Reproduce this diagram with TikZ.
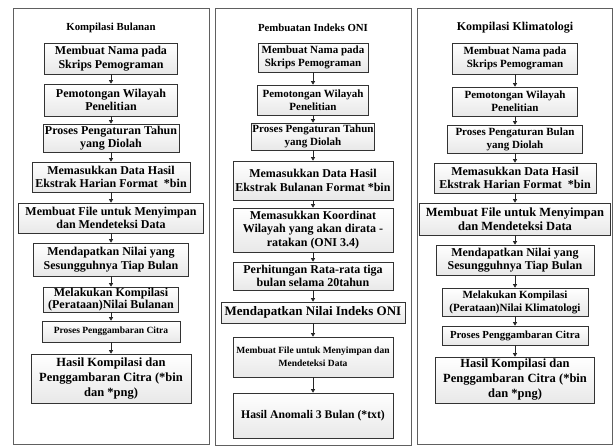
\documentclass[tikz,border=0pt]{standalone}
\usepackage{fontspec}
\setmainfont{Liberation Serif}
\usetikzlibrary{arrows.meta,shadows}

\tikzset{
  panel/.style={draw=gray!75!black, line width=1pt},
  title/.style={font=\bfseries\fontsize{10.8}{12}\selectfont},
  stepbox/.style={draw=gray!40!black, line width=0.6pt, top color=white,
    bottom color=gray!18, align=center, inner sep=0pt,
    drop shadow={shadow xshift=0.9pt, shadow yshift=-0.9pt, fill=gray!70, opacity=0.6}},
  sz/.style 2 args={minimum width=#1pt, minimum height=#2pt},
  fbig/.style={font=\bfseries\fontsize{12}{13.5}\selectfont},
  fmid/.style={font=\bfseries\fontsize{11}{13}\selectfont},
  fsmall/.style={font=\bfseries\fontsize{9.5}{12.5}\selectfont},
  arr/.style={-{Triangle[length=3.5pt,width=4pt]}, draw=gray!30!black, line width=0.8pt},
}

\begin{document}
\begin{tikzpicture}[x=1pt,y=-1pt]
    \useasboundingbox (0,0) rectangle (614,446);
    % panels
    \draw[panel] (13,9) rectangle (209,445);
    \draw[panel] (215,9) rectangle (411,446);
    \draw[panel] (417,9) rectangle (612,445);

    % Kompilasi Bulanan
    \node[title] (tl) at (111,28) {Kompilasi Bulanan};
    \node[stepbox, fbig, sz={133}{31}] (l1) at (111,58.5) {Membuat Nama pada\\Skrips Pemograman};
    \node[stepbox, fbig, sz={133}{32}] (l2) at (111,100) {Pemotongan Wilayah\\Penelitian};
    \node[stepbox, fbig, sz={136}{28}] (l3) at (111,138) {Proses Pengaturan Tahun\\yang Diolah};
    \node[stepbox, fbig, sz={158}{30}] (l4) at (111,177) {Memasukkan Data Hasil\\Ekstrak Harian Format~~*bin};
    \node[stepbox, fbig, sz={185}{30}] (l5) at (111,218) {Membuat File untuk Menyimpan\\dan Mendeteksi Data};
    \node[stepbox, fbig, sz={155}{33}] (l6) at (111,259.5) {Mendapatkan Nilai yang\\Sesungguhnya Tiap Bulan};
    \node[stepbox, font=\bfseries\fontsize{12}{12.5}\selectfont, sz={135}{25}] (l7) at (111,299.5) {Melakukan Kompilasi\\(Perataan)Nilai Bulanan};
    \node[stepbox, fsmall, sz={138}{21}] (l8) at (111,331.5) {Proses Penggambaran Citra};
    \node[stepbox, font=\bfseries\fontsize{12.5}{15}\selectfont, sz={160}{49}] (l9) at (111,378.5) {Hasil Kompilasi dan\\Penggambaran Citra (*bin\\dan *png)};

    % Pembuatan Indeks ONI
    \node[title] (tm) at (313,28) {Pembuatan Indeks ONI};
    \node[stepbox, fmid, sz={110}{29}] (m1) at (313,57.5) {Membuat Nama pada\\Skrips Pemograman};
    \node[stepbox, fmid, sz={111}{30}] (m2) at (313,100) {Pemotongan Wilayah\\Penelitian};
    \node[stepbox, fmid, sz={123}{27}] (m3) at (313,136.5) {Proses Pengaturan Tahun\\yang Diolah};
    \node[stepbox, fbig, sz={160}{39}] (m4) at (313,180.5) {Memasukkan Data Hasil\\Ekstrak Bulanan Format *bin};
    \node[stepbox, fbig, sz={160}{44}] (m5) at (313,230) {Memasukkan Koordinat\\Wilayah yang akan dirata -\\ratakan (ONI 3.4)};
    \node[stepbox, fbig, sz={160}{28}] (m6) at (313,276) {Perhitungan Rata-rata tiga\\bulan selama 20tahun};
    \node[stepbox, font=\bfseries\fontsize{13}{15}\selectfont, sz={184}{21}] (m7) at (313,312.5) {Mendapatkan Nilai Indeks ONI};
    \node[stepbox, fsmall, sz={160}{40}] (m8) at (313,357) {Membuat File untuk Menyimpan dan\\Mendeteksi Data};
    \node[stepbox, font=\bfseries\fontsize{11.7}{14}\selectfont, sz={160}{45}] (m9) at (313,415.5) {Hasil Anomali 3 Bulan (*txt)};

    % Kompilasi Klimatologi
    \node[title, font=\bfseries\fontsize{12}{14}\selectfont] (tr) at (515,28) {Kompilasi Klimatologi};
    \node[stepbox, fmid, sz={125}{31}] (r1) at (515,58.5) {Membuat Nama pada\\Skrips Pemograman};
    \node[stepbox, fmid, sz={125}{29}] (r2) at (515,101.5) {Pemotongan Wilayah\\Penelitian};
    \node[stepbox, fmid, sz={135}{28}] (r3) at (515,139) {Proses Pengaturan Bulan\\yang Diolah};
    \node[stepbox, fbig, sz={162}{30}] (r4) at (515,178) {Memasukkan Data Hasil\\Ekstrak Harian Format~~*bin};
    \node[stepbox, font=\bfseries\fontsize{12.5}{14}\selectfont, sz={191}{32}] (r5) at (515,219) {Membuat File untuk Menyimpan\\dan Mendeteksi Data};
    \node[stepbox, fbig, sz={158}{30}] (r6) at (515,260) {Mendapatkan Nilai yang\\Sesungguhnya Tiap Bulan};
    \node[stepbox, fmid, sz={146}{28}] (r7) at (515,302) {Melakukan Kompilasi\\(Perataan)Nilai Klimatologi};
    \node[stepbox, font=\bfseries\fontsize{10.8}{12}\selectfont, sz={146}{19}] (r8) at (515,335.5) {Proses Penggambaran Citra};
    \node[stepbox, font=\bfseries\fontsize{12.5}{15}\selectfont, sz={159}{46}] (r9) at (515,380) {Hasil Kompilasi dan\\Penggambaran Citra (*bin\\dan *png)};

    % arrows
    \foreach \p in {l,m,r}
        \foreach \a/\b in {1/2,2/3,3/4,4/5,5/6,6/7,7/8,8/9}
            \draw[arr] (\p\a.south) -- (\p\b.north);
\end{tikzpicture}
\end{document}
